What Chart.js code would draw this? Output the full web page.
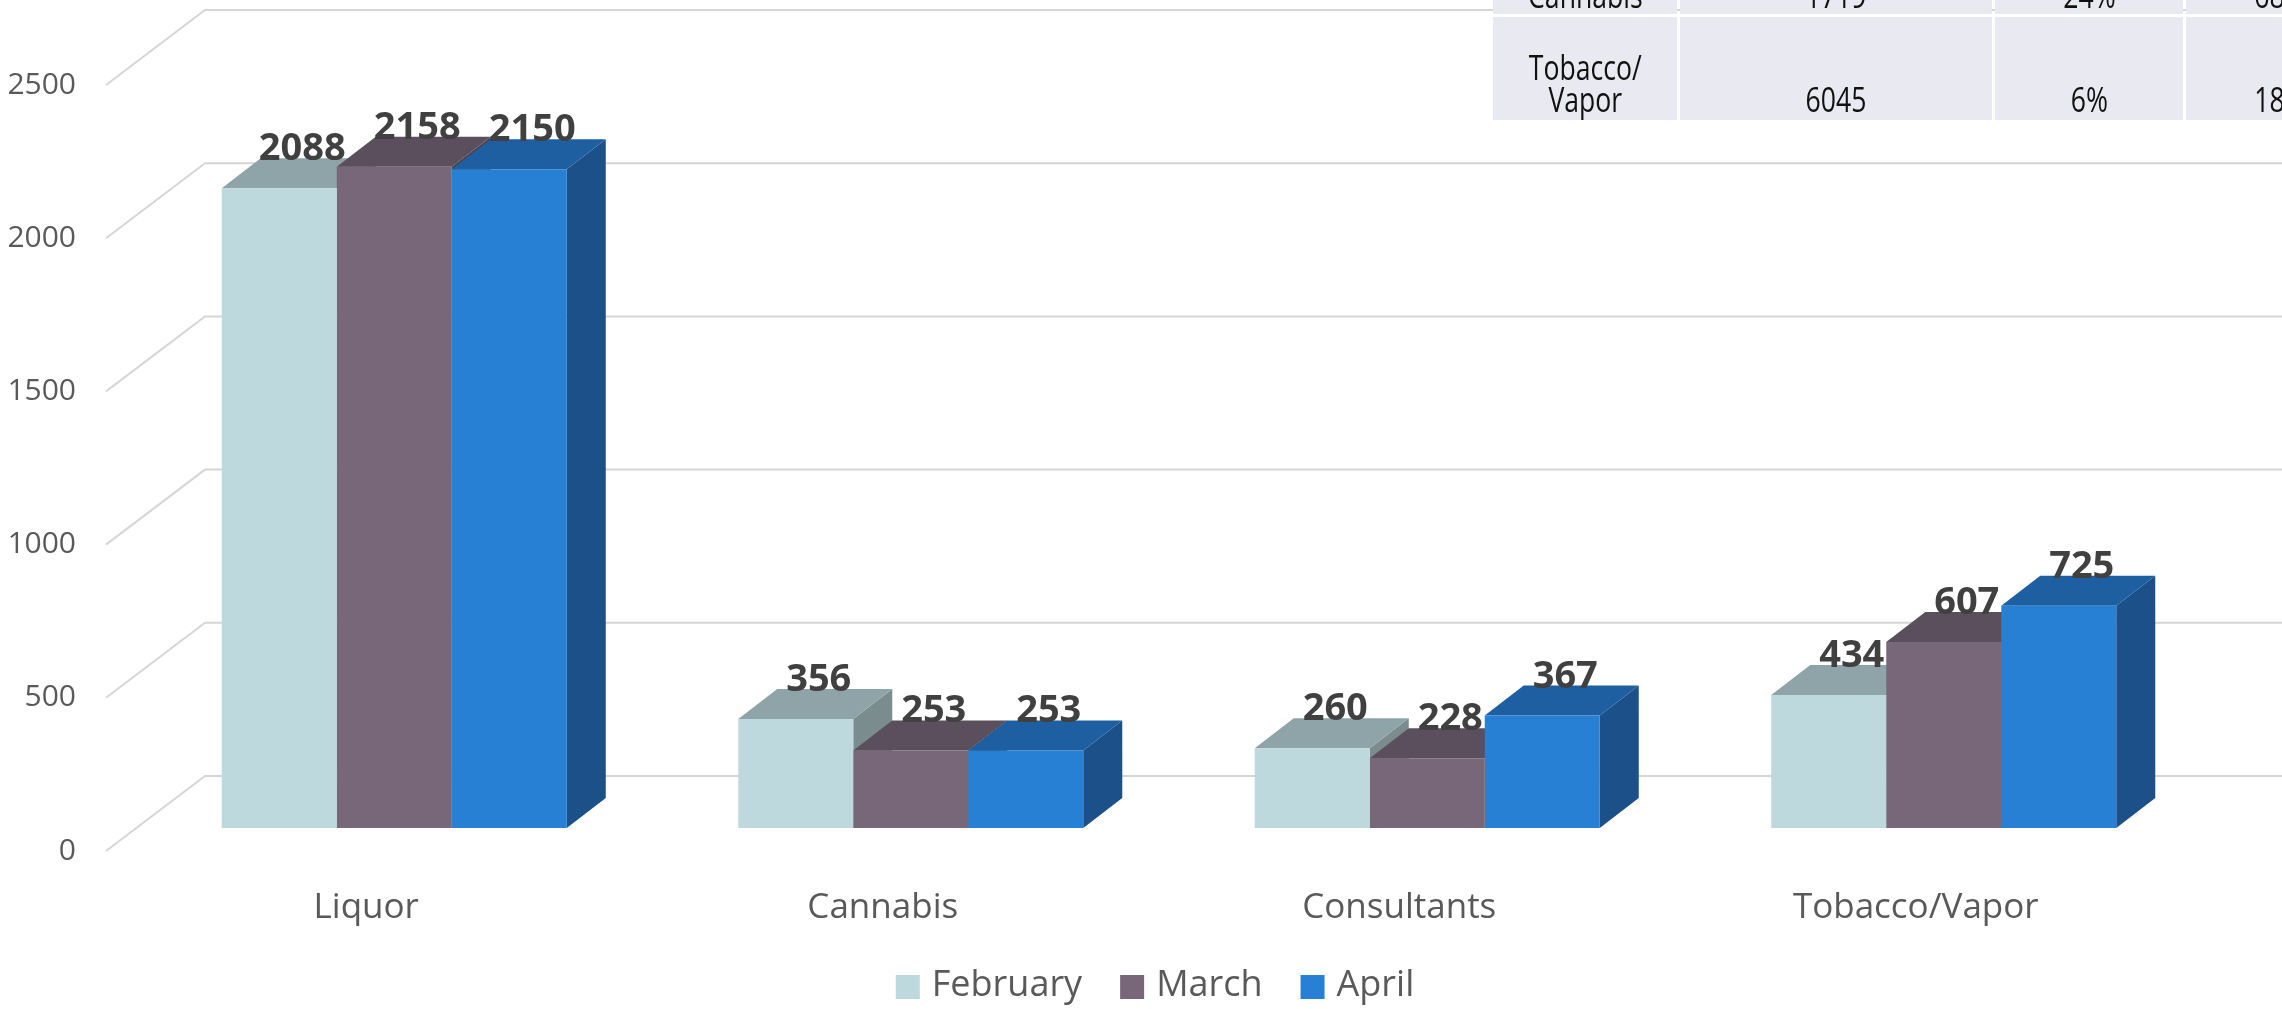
<!DOCTYPE html>
<html>
<head>
<meta charset="utf-8">
<script src="https://cdn.jsdelivr.net/npm/chart.js@4.4.1/dist/chart.umd.min.js"></script>
<style>
  html, body { margin: 0; padding: 0; background: #ffffff; overflow: hidden; }
  #wrap { position: relative; width: 2282px; height: 1009px; overflow: hidden; background: #fff; }
  #chart { position: absolute; left: 0; top: 0; }
  .cell { position: absolute; background: #E9E9F1; }
  .ctext { position: absolute; text-align: center; font-family: 'Open Sans', sans-serif; font-size: 35px; line-height: 32px; color: #111; white-space: nowrap; }
  .ctext span { display: inline-block; transform: scaleX(0.76); transform-origin: 50% 50%; }
</style>
</head>
<body>
<div id="wrap">
  <canvas id="chart" width="2282" height="1009"></canvas>
</div>
<script>
// ---------------- data ----------------
const categories = ['Liquor', 'Cannabis', 'Consultants', 'Tobacco/Vapor'];
const seriesNames = ['February', 'March', 'April'];
const february = [2088, 356, 260, 434];
const march = [2158, 253, 228, 607];
const april = [2150, 253, 367, 725];
const yTicks = [0, 500, 1000, 1500, 2000, 2500];

// overlaid table (partially visible in the picture)
const tableRow1 = ['Cannabis', '1719', '24%', '68%'];
const tableRow2 = ['Tobacco/\nVapor', '6045', '6%', '18%'];

// ---------------- styles ----------------
const frontColors = ['#BDD9DE', '#776779', '#2780D4'];
const topColors = ['#8FA4A8', '#5B4F5D', '#1E5FA1'];
const sideColors = ['#7B8C8F', '#4E4350', '#1C5089'];
const DX = 39, DY = 30;                  // bar depth offsets
const WALL = { frontX: 106, frontDY: 23, backX: 205, backDY: -52 };

// ---------------- table overlay ----------------
(function buildTable() {
  const wrap = document.getElementById('wrap');
  const cols = [[1493, 184], [1680, 312], [1995, 188], [2186, 188]];
  const rows = [{ top: -90, h: 104, center: -4, data: tableRow1 },
                { top: 17, h: 103, center: 100, data: tableRow2 }];
  rows.forEach(r => {
    cols.forEach((c, i) => {
      const cell = document.createElement('div');
      cell.className = 'cell';
      cell.style.left = c[0] + 'px'; cell.style.width = c[1] + 'px';
      cell.style.top = r.top + 'px'; cell.style.height = r.h + 'px';
      wrap.appendChild(cell);
      const lines = r.data[i].split('\n');
      const t = document.createElement('div');
      t.className = 'ctext';
      t.style.left = c[0] + 'px'; t.style.width = c[1] + 'px';
      t.style.top = (r.center - 17 - (lines.length - 1) * 32) + 'px';
      const sp = document.createElement('span');
      lines.forEach((ln, k) => {
        if (k) sp.appendChild(document.createElement('br'));
        sp.appendChild(document.createTextNode(ln));
      });
      t.appendChild(sp);
      wrap.appendChild(t);
    });
  });
})();

// ---------------- 3D plugin ----------------
const threeD = {
  id: 'threeD',
  beforeDatasetsDraw(chart) {
    const ctx = chart.ctx;
    const ys = chart.scales.y;
    ctx.save();
    // walls / gridlines
    ctx.strokeStyle = '#D6D6D6';
    ctx.lineWidth = 2;
    yTicks.forEach(v => {
      const p = ys.getPixelForValue(v);
      ctx.beginPath();
      ctx.moveTo(WALL.frontX, p + WALL.frontDY);
      ctx.lineTo(WALL.backX, p + WALL.backDY);
      ctx.lineTo(chart.width, p + WALL.backDY);
      ctx.stroke();
    });
    // side and top faces, left to right
    const nd = chart.data.datasets.length;
    for (let c = 0; c < categories.length; c++) {
      for (let d = 0; d < nd; d++) {
        const el = chart.getDatasetMeta(d).data[c];
        const { x, y, base, width } = el.getProps(['x', 'y', 'base', 'width'], true);
        const l = x - width / 2, r = x + width / 2;
        ctx.fillStyle = sideColors[d];
        ctx.beginPath();
        ctx.moveTo(r, y); ctx.lineTo(r + DX, y - DY); ctx.lineTo(r + DX, base - DY); ctx.lineTo(r, base);
        ctx.closePath(); ctx.fill();
        ctx.fillStyle = topColors[d];
        ctx.beginPath();
        ctx.moveTo(l, y); ctx.lineTo(l + DX, y - DY); ctx.lineTo(r + DX, y - DY); ctx.lineTo(r, y);
        ctx.closePath(); ctx.fill();
      }
    }
    ctx.restore();
  },
  afterDatasetsDraw(chart) {
    const ctx = chart.ctx;
    ctx.save();
    ctx.font = 'bold 38px "Open Sans"';
    ctx.fillStyle = '#404040';
    ctx.textAlign = 'center';
    ctx.textBaseline = 'alphabetic';
    chart.data.datasets.forEach((ds, d) => {
      chart.getDatasetMeta(d).data.forEach((el, i) => {
        const { x, y } = el.getProps(['x', 'y'], true);
        ctx.fillText(String(ds.data[i]), x + 23, y - 28);
      });
    });
    ctx.restore();
  },
  afterDraw(chart) {
    // legend
    const ctx = chart.ctx;
    ctx.save();
    ctx.font = '36px "Open Sans"';
    const box = 24, gapText = 12, gapItem = 38, cy = 986;
    const items = chart.data.datasets.map((ds, d) => ({ text: ds.label, color: frontColors[d], w: ctx.measureText(ds.label).width }));
    let total = 0;
    items.forEach((it, i) => { total += box + gapText + it.w + (i < items.length - 1 ? gapItem : 0); });
    let x = 1155 - total / 2;
    ctx.textBaseline = 'middle';
    ctx.textAlign = 'left';
    items.forEach(it => {
      ctx.fillStyle = it.color;
      ctx.fillRect(x, cy - box / 2 + 1, box, box);
      ctx.fillStyle = '#595959';
      ctx.fillText(it.text, x + box + gapText, cy);
      x += box + gapText + it.w + gapItem;
    });
    ctx.restore();
  }
};

const seriesValues = [february, march, april];
new Chart(document.getElementById('chart'), {
  type: 'bar',
  data: {
    labels: categories,
    datasets: seriesNames.map((name, d) => ({
      label: name,
      data: seriesValues[d],
      backgroundColor: frontColors[d],
      borderWidth: 0,
      categoryPercentage: 0.668,
      barPercentage: 1.0
    }))
  },
  options: {
    responsive: false,
    animation: false,
    devicePixelRatio: 1,
    layout: { padding: { top: 62, right: 80, left: 0, bottom: 0 } },
    plugins: { legend: { display: false }, tooltip: { enabled: false } },
    scales: {
      x: {
        grid: { display: false, drawTicks: false },
        border: { display: false },
        ticks: { color: '#595959', font: { family: 'Open Sans', size: 35 }, padding: 59, labelOffset: -28, maxRotation: 0, autoSkip: false },
        afterFit(s) { s.height = 181; }
      },
      y: {
        min: 0, max: 2500,
        grid: { display: false, drawTicks: false },
        border: { display: false },
        ticks: { stepSize: 500, color: '#595959', font: { family: 'Open Sans', size: 30 }, padding: 60, labelOffset: 23,
                 callback: v => String(v) },
        afterFit(s) { s.width = 136; s.paddingTop = 0; s.paddingBottom = 0; }
      }
    }
  },
  plugins: [threeD]
});
</script>
</body>
</html>
